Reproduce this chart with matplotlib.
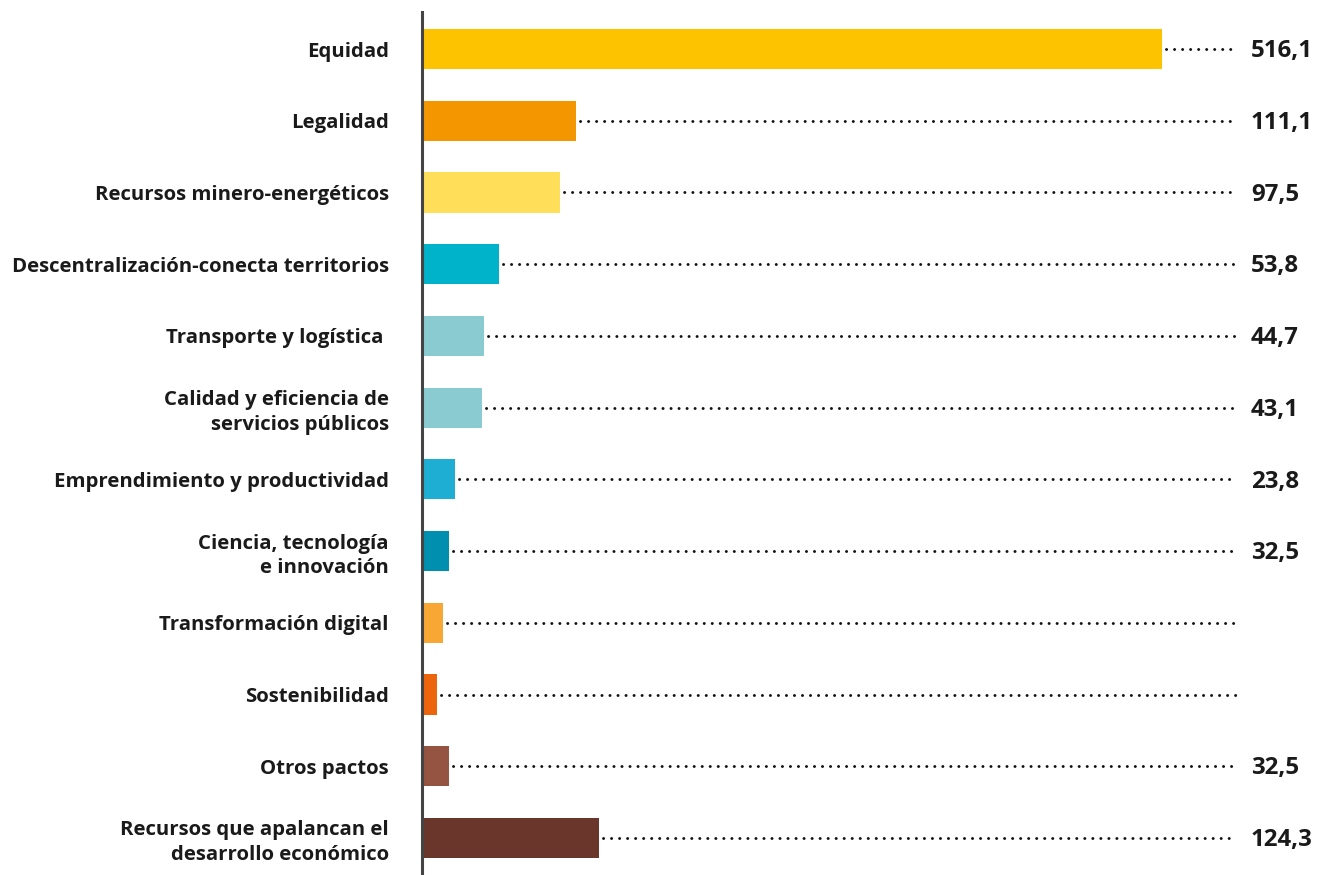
import matplotlib
matplotlib.use("Agg")
import matplotlib.pyplot as plt

categories = [
    "Equidad",
    "Legalidad",
    "Recursos minero-energéticos",
    "Descentralización-conecta territorios",
    "Transporte y logística ",
    "Calidad y eficiencia de\nservicios públicos",
    "Emprendimiento y productividad",
    "Ciencia, tecnología\ne innovación",
    "Transformación digital",
    "Sostenibilidad",
    "Otros pactos",
    "Recursos que apalancan el\ndesarrollo económico",
]
values = [516.1, 107.4, 96.2, 53.8, 43.2, 41.8, 23.0, 18.8, 14.6, 10.5, 18.8, 123.4]
value_labels = ["516,1", "111,1", "97,5", "53,8", "44,7", "43,1", "23,8", "32,5", "", "", "32,5", "124,3"]
colors = ["#FDC300", "#F39600", "#FFDE5A", "#00B2CA", "#8ACBD1", "#8ACBD1",
          "#1EAED4", "#008FAE", "#F8A634", "#EC640C", "#955342", "#6A352A"]

plt.rcParams['font.family'] = ['Open Sans', 'DejaVu Sans']

W, H = 1327, 875
fig = plt.figure(figsize=(W / 100, H / 100), dpi=100)
ax_left, ax_right = 422, 1327
ax_top, ax_bot = 12, 875
ax = fig.add_axes([ax_left / W, 1 - ax_bot / H, (ax_right - ax_left) / W, (ax_bot - ax_top) / H])

px_per_unit = (1162 - 422) / values[0]
xmax = (ax_right - ax_left) / px_per_unit
ax.set_xlim(0, xmax)
n = len(categories)
ax.set_ylim(n - 1 + 0.516, -0.516)

y = list(range(n))
ax.barh(y, values, height=0.56, color=colors, edgecolor="none")

line_end = (1236 - ax_left) / px_per_unit
label_x = (1251 - ax_left) / px_per_unit
gap = 4 / px_per_unit
for i, (v, lab) in enumerate(zip(values, value_labels)):
    ax.plot([v + gap, line_end], [i, i], color="#111111", lw=2.1,
            linestyle=(0, (0.05, 2.7)), dash_capstyle="round", solid_capstyle="round")
    if lab:
        ax.text(label_x, i + 0.03, lab, ha="left", va="center", fontsize=17.3,
                fontweight="bold", color="#1a1a1a")

ax.set_yticks(y)
ax.set_yticklabels(categories, fontsize=14.7, fontweight="bold", color="#1a1a1a",
                   linespacing=1.3, ha="right")
ax.tick_params(axis="y", length=0, pad=24)
ax.set_xticks([])
for s in ["top", "right", "bottom"]:
    ax.spines[s].set_visible(False)
ax.spines["left"].set_color("#444444")
ax.spines["left"].set_linewidth(2.2)

fig.savefig("out.png", dpi=100)
